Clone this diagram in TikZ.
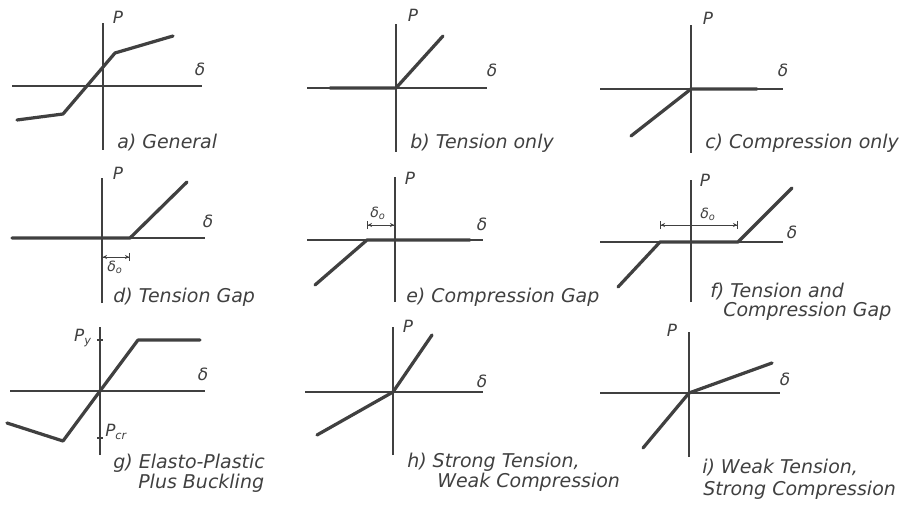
\documentclass[tikz,border=0pt]{standalone}
\usepackage{fontspec}
\newfontfamily\hand{DejaVu Sans}
\usetikzlibrary{arrows.meta}
\definecolor{ink}{HTML}{404040}

\begin{document}
\begin{tikzpicture}[x=0.025cm,y=0.025cm,
    axis/.style={ink,line width=1.3pt},
    curve/.style={ink,line width=2.3pt,line cap=round,line join=round},
    dim/.style={ink,line width=0.6pt,
        {Bar[width=6pt]Stealth[length=3pt,width=3pt]}-{Stealth[length=3pt,width=3pt]Bar[width=6pt]}},
    pmark/.style={ink,line width=1pt},
    axlbl/.style={ink,inner sep=0pt,font=\hand\itshape\fontsize{12}{14}\selectfont},
    gaplbl/.style={ink,inner sep=0pt,font=\hand\itshape\fontsize{10}{12}\selectfont},
    captxt/.style={ink,anchor=west,inner sep=0pt,font=\hand\itshape\fontsize{13.5}{16}\selectfont}]
    \useasboundingbox (0,0) rectangle (911,507);

    % a) general
    \begin{scope}[shift={(103,421)}]
        \draw[axis] (0,-64) -- (0,63);
        \draw[axis] (-91,0) -- (99,0);
        \coordinate (A1) at (-86,-34);
        \coordinate (A2) at (-40,-28);
        \coordinate (A3) at (12,33);
        \coordinate (A4) at (70,50);
        \draw[curve] (A1) -- (A2) -- (A3) -- (A4);
        \node[axlbl] (Pa) at (15,69) {P};
        \node[axlbl] (da) at (97,17) {δ};
        \node[captxt] (capa) at (14,-57) {a) General};
    \end{scope}

    % b) tension only
    \begin{scope}[shift={(396,419)}]
        \draw[axis] (0,-64) -- (0,64);
        \draw[axis] (-89,0) -- (91,0);
        \coordinate (Ob) at (0,0);
        \coordinate (B1) at (-66,0);
        \coordinate (B2) at (47,52);
        \draw[curve] (B1) -- (Ob) -- (B2);
        \node[axlbl] (Pb) at (17,73) {P};
        \node[axlbl] (db) at (96,18) {δ};
        \node[captxt] (capb) at (14,-55) {b) Tension only};
    \end{scope}

    % c) compression only
    \begin{scope}[shift={(691,418)}]
        \draw[axis] (0,-64) -- (0,64);
        \draw[axis] (-91,0) -- (92,0);
        \coordinate (Oc) at (0,0);
        \coordinate (C1) at (66,0);
        \coordinate (C2) at (-60,-47);
        \draw[curve] (C1) -- (Oc) -- (C2);
        \node[axlbl] (Pc) at (17,71) {P};
        \node[axlbl] (dc) at (92,19) {δ};
        \node[captxt] (capc) at (14,-54) {c) Compression only};
    \end{scope}

    % d) tension gap
    \begin{scope}[shift={(102,269)}]
        \draw[axis] (0,-65) -- (0,60);
        \draw[axis] (-90,0) -- (103,0);
        \coordinate (D1) at (-90,0);
        \coordinate (D2) at (28,0);
        \coordinate (D3) at (85,56);
        \draw[curve] (D1) -- (D2) -- (D3);
        \coordinate (Dg1) at (0,-19);
        \coordinate (Dg2) at (28,-19);
        \draw[dim] (Dg1) -- (Dg2);
        \node[gaplbl] (gd) at (13,-29) {δ\textsubscript{o}};
        \node[axlbl] (Pd) at (16,65) {P};
        \node[axlbl] (dd) at (106,17) {δ};
        \node[captxt] (capd) at (11,-59) {d) Tension Gap};
    \end{scope}

    % e) compression gap
    \begin{scope}[shift={(395,267)}]
        \draw[axis] (0,-62) -- (0,63);
        \draw[axis] (-88,0) -- (88,0);
        \coordinate (E1) at (-80,-45);
        \coordinate (E2) at (-28,0);
        \coordinate (E3) at (75,0);
        \draw[curve] (E1) -- (E2) -- (E3);
        \coordinate (Eg1) at (-28,15);
        \coordinate (Eg2) at (0,15);
        \draw[dim] (Eg1) -- (Eg2);
        \node[gaplbl] (ge) at (-17,27) {δ\textsubscript{o}};
        \node[axlbl] (Pe) at (15,62) {P};
        \node[axlbl] (de) at (87,16) {δ};
        \node[captxt] (cape) at (11,-57) {e) Compression Gap};
    \end{scope}

    % f) tension and compression gap
    \begin{scope}[shift={(691,265)}]
        \draw[axis] (0,-60) -- (0,62);
        \draw[axis] (-91,0) -- (92,0);
        \coordinate (F1) at (-73,-45);
        \coordinate (F2) at (-31,0);
        \coordinate (F3) at (47,0);
        \coordinate (F4) at (101,54);
        \draw[curve] (F1) -- (F2) -- (F3) -- (F4);
        \coordinate (Fg1) at (-31,17);
        \coordinate (Fg2) at (47,17);
        \draw[dim] (Fg1) -- (Fg2);
        \node[gaplbl] (gf) at (17,28) {δ\textsubscript{o}};
        \node[axlbl] (Pf) at (14,62) {P};
        \node[axlbl] (df) at (101,10) {δ};
        \node[captxt] (capf) at (19,-50) {f) Tension and};
        \node[captxt] (capf2) at (32,-69) {Compression Gap};
    \end{scope}

    % g) elasto-plastic plus buckling
    \begin{scope}[shift={(100,116)}]
        \draw[axis] (0,-64) -- (0,64);
        \draw[axis] (-90,0) -- (105,0);
        \coordinate (G1) at (-93,-32);
        \coordinate (G2) at (-37,-50);
        \coordinate (Og) at (0,0);
        \coordinate (G3) at (38,51);
        \coordinate (G4) at (100,51);
        \draw[curve] (G1) -- (G2) -- (Og) -- (G3) -- (G4);
        \draw[pmark] (-3,51) -- (3,51);
        \draw[pmark] (-3,-47) -- (3,-47);
        \node[axlbl] (Py) at (-17,53) {P\textsubscript{y}};
        \node[axlbl,anchor=west] (Pcr) at (5,-41) {P\textsubscript{cr}};
        \node[axlbl] (dg) at (103,17) {δ};
        \node[captxt] (capg) at (13,-72) {g) Elasto-Plastic};
        \node[captxt] (capg2) at (38,-92) {Plus Buckling};
    \end{scope}

    % h) strong tension, weak compression
    \begin{scope}[shift={(393,115)}]
        \draw[axis] (0,-63) -- (0,65);
        \draw[axis] (-88,0) -- (90,0);
        \coordinate (H1) at (-76,-43);
        \coordinate (Oh) at (0,0);
        \coordinate (H2) at (39,57);
        \draw[curve] (H1) -- (Oh) -- (H2);
        \node[axlbl] (Ph) at (15,66) {P};
        \node[axlbl] (dh) at (89,11) {δ};
        \node[captxt] (caph) at (14,-70) {h) Strong Tension,};
        \node[captxt] (caph2) at (44,-90) {Weak Compression};
    \end{scope}

    % i) weak tension, strong compression
    \begin{scope}[shift={(689,114)}]
        \draw[axis] (0,-64) -- (0,61);
        \draw[axis] (-89,0) -- (91,0);
        \coordinate (I1) at (-46,-55);
        \coordinate (Oi) at (0,0);
        \coordinate (I2) at (83,30);
        \draw[curve] (I1) -- (Oi) -- (I2);
        \node[axlbl] (Pi) at (-17,63) {P};
        \node[axlbl] (di) at (96,14) {δ};
        \node[captxt] (capi) at (13,-75) {i) Weak Tension,};
        \node[captxt] (capi2) at (14,-97) {Strong Compression};
    \end{scope}
\end{tikzpicture}
\end{document}
